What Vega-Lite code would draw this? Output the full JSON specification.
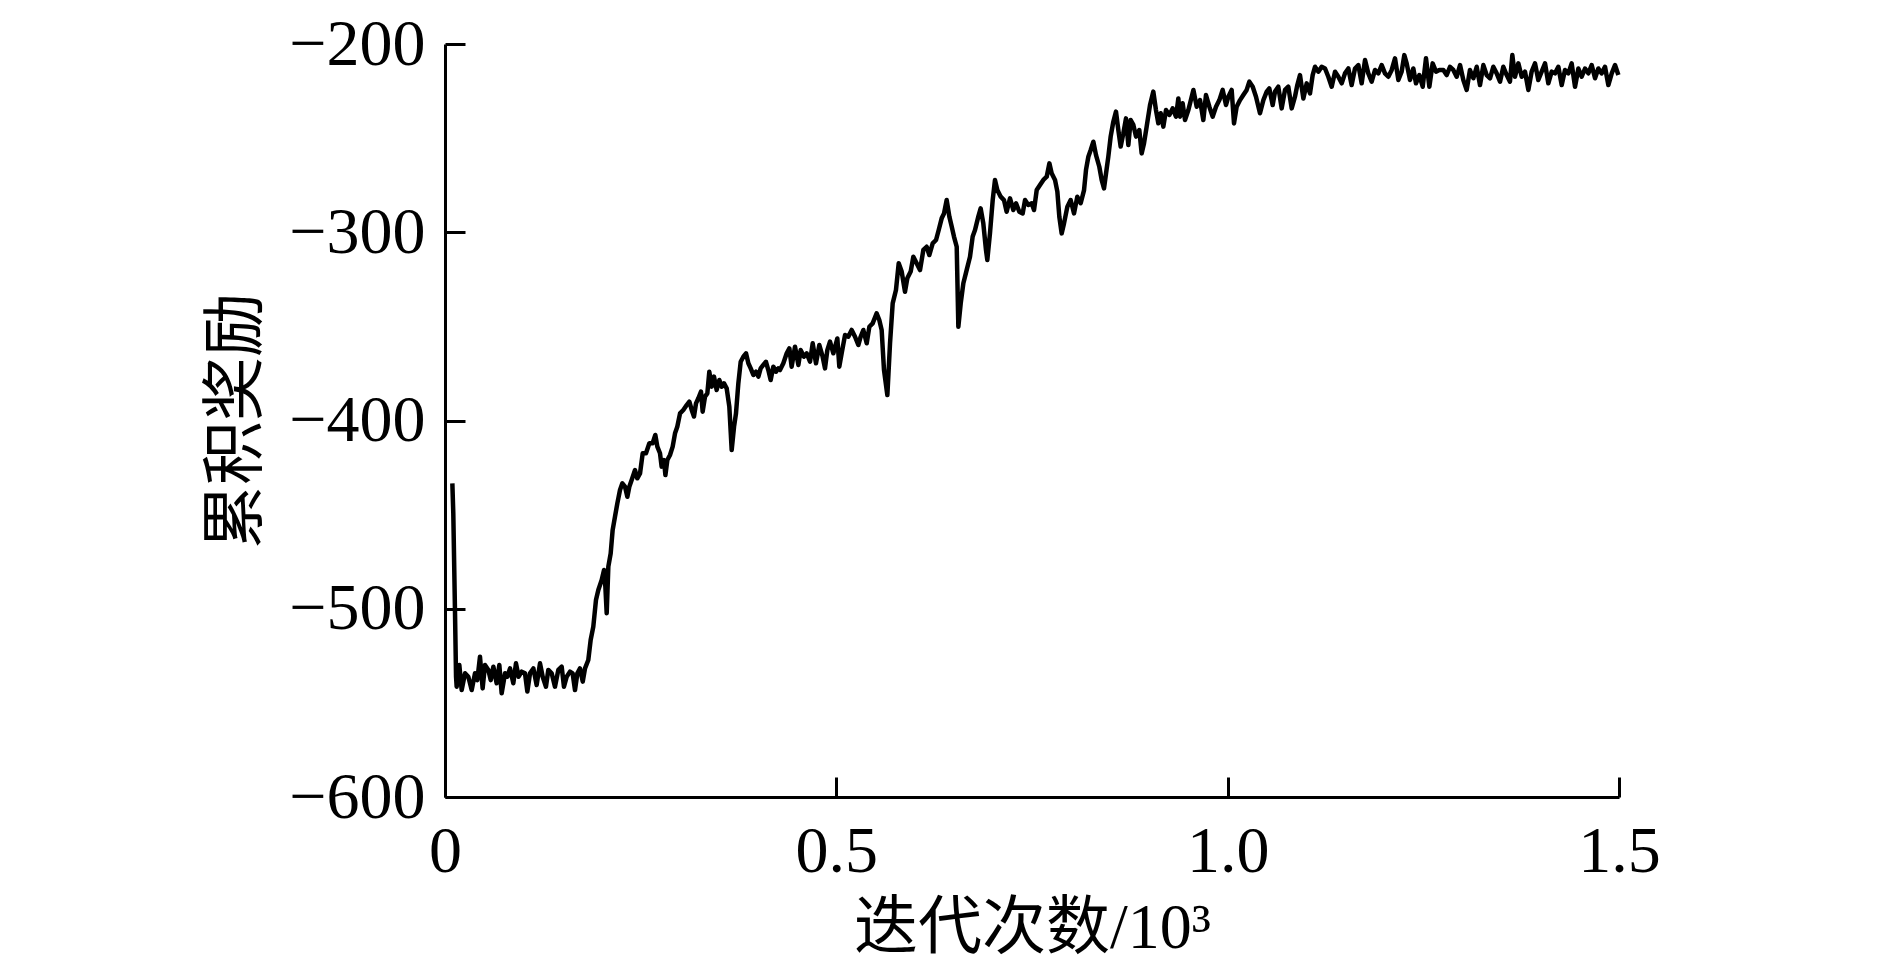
{
  "$schema": "https://vega.github.io/schema/vega-lite/v6.json",
  "width": 1174,
  "height": 753,
  "autosize": "none",
  "padding": {"left": 445, "top": 44, "right": 271, "bottom": 169},
  "background": "white",
  "config": {
    "view": {"stroke": null},
    "axis": {
      "grid": false,
      "domainColor": "black",
      "domainWidth": 3,
      "tickColor": "black",
      "tickWidth": 3,
      "labelFont": "Liberation Serif",
      "labelFontSize": 66,
      "labelColor": "black",
      "titleFont": "Liberation Serif, Noto Sans CJK SC",
      "titleFontSize": 64,
      "titleFontWeight": "normal",
      "titleColor": "black"
    }
  },
  "data": {
    "values": [
      {"x":0.0094,"y":-433.4},{"x":0.0106,"y":-449.3},{"x":0.0128,"y":-502.4},{"x":0.0141,"y":-536.1},
      {"x":0.0149,"y":-541.4},{"x":0.0183,"y":-529.9},{"x":0.0213,"y":-543.2},{"x":0.0256,"y":-534.3},
      {"x":0.0298,"y":-536.1},{"x":0.0341,"y":-543.2},{"x":0.0383,"y":-534.3},{"x":0.0413,"y":-537.9},
      {"x":0.0447,"y":-525.5},{"x":0.0481,"y":-542.3},{"x":0.0511,"y":-529.9},{"x":0.0554,"y":-532.5},
      {"x":0.0584,"y":-537.9},{"x":0.0618,"y":-530.8},{"x":0.0660,"y":-539.6},{"x":0.0694,"y":-529.9},
      {"x":0.0724,"y":-544.9},{"x":0.0767,"y":-534.3},{"x":0.0796,"y":-536.1},{"x":0.0831,"y":-531.7},
      {"x":0.0873,"y":-539.6},{"x":0.0907,"y":-529.0},{"x":0.0941,"y":-536.1},{"x":0.0980,"y":-533.4},
      {"x":0.1022,"y":-534.3},{"x":0.1052,"y":-544.0},{"x":0.1086,"y":-534.3},{"x":0.1129,"y":-531.7},
      {"x":0.1171,"y":-540.5},{"x":0.1214,"y":-529.0},{"x":0.1248,"y":-536.1},{"x":0.1290,"y":-541.4},
      {"x":0.1320,"y":-532.5},{"x":0.1363,"y":-534.3},{"x":0.1405,"y":-541.4},{"x":0.1448,"y":-532.5},
      {"x":0.1491,"y":-530.8},{"x":0.1520,"y":-541.4},{"x":0.1555,"y":-536.1},{"x":0.1597,"y":-533.4},
      {"x":0.1631,"y":-534.3},{"x":0.1661,"y":-543.2},{"x":0.1691,"y":-534.3},{"x":0.1725,"y":-531.7},
      {"x":0.1760,"y":-538.7},{"x":0.1789,"y":-531.7},{"x":0.1831,"y":-527.2},
      {"x":0.1861,"y":-516.6},{"x":0.1895,"y":-509.5},{"x":0.1929,"y":-495.4},{"x":0.1959,"y":-490.0},
      {"x":0.2002,"y":-484.7},{"x":0.2032,"y":-479.4},{"x":0.2049,"y":-488.3},{"x":0.2066,"y":-502.4},
      {"x":0.2087,"y":-477.6},{"x":0.2117,"y":-470.6},{"x":0.2142,"y":-458.2},{"x":0.2172,"y":-451.1},
      {"x":0.2202,"y":-444.0},{"x":0.2236,"y":-436.9},{"x":0.2266,"y":-433.4},{"x":0.2300,"y":-435.2},
      {"x":0.2330,"y":-440.5},{"x":0.2355,"y":-435.2},{"x":0.2385,"y":-431.6},{"x":0.2428,"y":-426.3},
      {"x":0.2457,"y":-430.7},{"x":0.2492,"y":-428.1},{"x":0.2526,"y":-417.4},{"x":0.2568,"y":-417.4},
      {"x":0.2611,"y":-412.1},{"x":0.2653,"y":-412.1},{"x":0.2687,"y":-407.7},{"x":0.2713,"y":-413.9},
      {"x":0.2747,"y":-417.4},{"x":0.2768,"y":-424.5},{"x":0.2798,"y":-421.0},{"x":0.2816,"y":-429.0},
      {"x":0.2841,"y":-421.0},{"x":0.2875,"y":-418.3},{"x":0.2909,"y":-413.9},{"x":0.2939,"y":-406.8},
      {"x":0.2968,"y":-403.3},{"x":0.3003,"y":-396.2},{"x":0.3045,"y":-394.4},{"x":0.3088,"y":-391.8},
      {"x":0.3122,"y":-390.0},{"x":0.3152,"y":-394.4},{"x":0.3181,"y":-397.9},{"x":0.3207,"y":-390.9},
      {"x":0.3237,"y":-388.2},{"x":0.3271,"y":-384.7},{"x":0.3292,"y":-395.3},{"x":0.3322,"y":-387.3},
      {"x":0.3352,"y":-385.6},{"x":0.3377,"y":-374.1},{"x":0.3408,"y":-382.0},{"x":0.3437,"y":-376.7},
      {"x":0.3471,"y":-383.8},{"x":0.3505,"y":-378.5},{"x":0.3536,"y":-382.0},{"x":0.3565,"y":-380.3},
      {"x":0.3599,"y":-382.9},{"x":0.3633,"y":-392.7},{"x":0.3663,"y":-415.7},{"x":0.3693,"y":-403.3},
      {"x":0.3718,"y":-396.2},{"x":0.3748,"y":-380.3},{"x":0.3778,"y":-368.8},{"x":0.3812,"y":-366.1},
      {"x":0.3846,"y":-364.3},{"x":0.3876,"y":-369.6},{"x":0.3906,"y":-372.3},{"x":0.3940,"y":-375.8},
      {"x":0.3974,"y":-374.1},{"x":0.4004,"y":-376.7},{"x":0.4033,"y":-372.3},{"x":0.4067,"y":-370.5},
      {"x":0.4101,"y":-368.8},{"x":0.4131,"y":-373.2},{"x":0.4161,"y":-378.5},{"x":0.4195,"y":-371.4},
      {"x":0.4229,"y":-374.1},{"x":0.4259,"y":-372.3},
      {"x":0.4280,"y":-373.2},{"x":0.4323,"y":-369.6},{"x":0.4366,"y":-364.3},{"x":0.4400,"y":-361.7},
      {"x":0.4429,"y":-371.4},{"x":0.4472,"y":-360.8},{"x":0.4515,"y":-370.5},{"x":0.4544,"y":-362.6},
      {"x":0.4587,"y":-366.1},{"x":0.4621,"y":-364.3},{"x":0.4664,"y":-368.8},{"x":0.4698,"y":-359.0},
      {"x":0.4740,"y":-369.6},{"x":0.4783,"y":-359.9},{"x":0.4825,"y":-366.1},{"x":0.4855,"y":-372.3},
      {"x":0.4885,"y":-362.6},{"x":0.4919,"y":-358.1},{"x":0.4962,"y":-364.3},{"x":0.5013,"y":-356.4},
      {"x":0.5038,"y":-371.4},{"x":0.5068,"y":-364.3},{"x":0.5111,"y":-354.6},{"x":0.5153,"y":-355.5},
      {"x":0.5196,"y":-351.9},{"x":0.5239,"y":-355.5},{"x":0.5281,"y":-359.9},{"x":0.5311,"y":-355.5},
      {"x":0.5345,"y":-351.9},{"x":0.5388,"y":-359.0},{"x":0.5422,"y":-350.2},{"x":0.5464,"y":-348.4},
      {"x":0.5515,"y":-343.1},{"x":0.5549,"y":-346.6},{"x":0.5579,"y":-351.9},{"x":0.5609,"y":-373.2},
      {"x":0.5652,"y":-386.5},{"x":0.5686,"y":-359.0},{"x":0.5720,"y":-337.8},{"x":0.5762,"y":-330.7},
      {"x":0.5797,"y":-316.5},{"x":0.5835,"y":-320.9},{"x":0.5877,"y":-331.6},{"x":0.5907,"y":-324.5},
      {"x":0.5950,"y":-320.9},{"x":0.5984,"y":-313.0},{"x":0.6026,"y":-316.5},{"x":0.6069,"y":-320.1},
      {"x":0.6112,"y":-309.4},{"x":0.6154,"y":-307.7},{"x":0.6188,"y":-312.1},{"x":0.6231,"y":-305.9},
      {"x":0.6274,"y":-304.1},{"x":0.6308,"y":-298.8},{"x":0.6346,"y":-292.6},{"x":0.6376,"y":-290.0},
      {"x":0.6410,"y":-282.9},{"x":0.6444,"y":-291.7},{"x":0.6474,"y":-297.0},{"x":0.6503,"y":-302.3},
      {"x":0.6538,"y":-307.7},{"x":0.6559,"y":-350.2},{"x":0.6589,"y":-337.8},{"x":0.6623,"y":-327.1},
      {"x":0.6665,"y":-320.1},{"x":0.6708,"y":-313.0},{"x":0.6742,"y":-302.3},{"x":0.6772,"y":-298.8},
      {"x":0.6814,"y":-291.7},{"x":0.6844,"y":-287.3},{"x":0.6878,"y":-295.3},{"x":0.6912,"y":-309.4},
      {"x":0.6929,"y":-314.7},{"x":0.6963,"y":-300.6},{"x":0.6998,"y":-282.9},{"x":0.7027,"y":-272.2},
      {"x":0.7057,"y":-277.6},{"x":0.7100,"y":-281.1},{"x":0.7142,"y":-282.9},{"x":0.7176,"y":-289.1},
      {"x":0.7219,"y":-282.0},{"x":0.7262,"y":-288.2},{"x":0.7296,"y":-284.6},{"x":0.7338,"y":-289.1},
      {"x":0.7381,"y":-290.0},{"x":0.7411,"y":-282.9},{"x":0.7453,"y":-285.5},{"x":0.7496,"y":-284.6},
      {"x":0.7526,"y":-288.2},{"x":0.7560,"y":-277.6},{"x":0.7602,"y":-274.9},{"x":0.7645,"y":-272.2},
      {"x":0.7688,"y":-270.5},{"x":0.7722,"y":-263.4},{"x":0.7751,"y":-268.7},{"x":0.7794,"y":-272.2},
      {"x":0.7824,"y":-278.4},{"x":0.7849,"y":-291.7},{"x":0.7879,"y":-300.6},{"x":0.7909,"y":-295.3},
      {"x":0.7952,"y":-286.4},{"x":0.7994,"y":-282.9},{"x":0.8037,"y":-290.0},{"x":0.8079,"y":-281.1},
      {"x":0.8122,"y":-284.6},{"x":0.8165,"y":-277.6},{"x":0.8190,"y":-266.9},{"x":0.8220,"y":-259.9},
      {"x":0.8250,"y":-256.3},{"x":0.8284,"y":-251.9},{"x":0.8318,"y":-259.0},{"x":0.8360,"y":-265.2},
      {"x":0.8390,"y":-272.2},{"x":0.8420,"y":-276.7},{"x":0.8446,"y":-268.7},{"x":0.8475,"y":-259.9},
      {"x":0.8505,"y":-249.2},{"x":0.8539,"y":-241.3},{"x":0.8573,"y":-235.9},{"x":0.8603,"y":-245.7},
      {"x":0.8633,"y":-254.5},{"x":0.8667,"y":-247.5},{"x":0.8701,"y":-239.5},{"x":0.8731,"y":-253.7},
      {"x":0.8761,"y":-240.4},{"x":0.8795,"y":-243.0},{"x":0.8829,"y":-249.2},{"x":0.8871,"y":-245.7},
      {"x":0.8901,"y":-258.1},{"x":0.8931,"y":-252.8},{"x":0.8965,"y":-243.9},{"x":0.9008,"y":-232.4},
      {"x":0.9050,"y":-225.3},{"x":0.9084,"y":-235.1},{"x":0.9114,"y":-242.1},{"x":0.9144,"y":-236.8},
      {"x":0.9178,"y":-243.9},{"x":0.9212,"y":-235.1},{"x":0.9255,"y":-237.7},{"x":0.9297,"y":-234.2},
      {"x":0.9340,"y":-238.6},{"x":0.9370,"y":-228.9},
      {"x":0.9391,"y":-238.6},{"x":0.9425,"y":-231.5},{"x":0.9455,"y":-240.4},{"x":0.9498,"y":-235.1},
      {"x":0.9562,"y":-224.4},{"x":0.9604,"y":-233.3},{"x":0.9647,"y":-229.8},{"x":0.9689,"y":-240.4},
      {"x":0.9723,"y":-227.1},{"x":0.9766,"y":-233.3},{"x":0.9808,"y":-238.6},{"x":0.9851,"y":-233.3},
      {"x":0.9894,"y":-229.8},{"x":0.9936,"y":-224.4},{"x":0.9979,"y":-232.4},{"x":1.0009,"y":-228.0},
      {"x":1.0051,"y":-224.4},{"x":1.0081,"y":-242.2},{"x":1.0115,"y":-233.3},{"x":1.0158,"y":-229.8},
      {"x":1.0200,"y":-227.1},{"x":1.0243,"y":-224.4},{"x":1.0277,"y":-220.0},{"x":1.0320,"y":-222.7},
      {"x":1.0362,"y":-228.0},{"x":1.0413,"y":-236.8},{"x":1.0456,"y":-229.8},{"x":1.0499,"y":-225.3},
      {"x":1.0532,"y":-223.6},{"x":1.0575,"y":-232.4},{"x":1.0605,"y":-225.3},{"x":1.0647,"y":-222.7},
      {"x":1.0690,"y":-234.2},{"x":1.0733,"y":-224.4},{"x":1.0775,"y":-222.7},{"x":1.0818,"y":-234.2},
      {"x":1.0860,"y":-228.0},{"x":1.0890,"y":-221.8},{"x":1.0924,"y":-216.5},{"x":1.0967,"y":-228.9},
      {"x":1.1010,"y":-220.9},{"x":1.1052,"y":-226.2},{"x":1.1086,"y":-216.5},{"x":1.1116,"y":-212.1},
      {"x":1.1159,"y":-214.7},{"x":1.1201,"y":-212.1},{"x":1.1244,"y":-213.0},{"x":1.1286,"y":-217.4},
      {"x":1.1329,"y":-222.7},{"x":1.1372,"y":-214.7},{"x":1.1414,"y":-217.4},{"x":1.1457,"y":-220.9},
      {"x":1.1499,"y":-215.6},{"x":1.1542,"y":-213.0},{"x":1.1584,"y":-221.8},{"x":1.1627,"y":-213.0},
      {"x":1.1670,"y":-211.2},{"x":1.1712,"y":-220.9},{"x":1.1755,"y":-208.5},{"x":1.1797,"y":-215.6},
      {"x":1.1840,"y":-220.0},{"x":1.1883,"y":-213.8},{"x":1.1925,"y":-215.6},{"x":1.1968,"y":-211.2},
      {"x":1.2010,"y":-215.6},{"x":1.2053,"y":-217.4},{"x":1.2096,"y":-213.8},{"x":1.2138,"y":-207.6},
      {"x":1.2181,"y":-219.1},{"x":1.2223,"y":-214.7},{"x":1.2257,"y":-205.9},{"x":1.2287,"y":-210.3},
      {"x":1.2330,"y":-219.1},{"x":1.2372,"y":-213.0},{"x":1.2406,"y":-220.9},{"x":1.2449,"y":-216.5},
      {"x":1.2492,"y":-222.7},{"x":1.2534,"y":-207.6},{"x":1.2577,"y":-222.7},{"x":1.2619,"y":-210.3},
      {"x":1.2662,"y":-214.7},{"x":1.2705,"y":-213.8},{"x":1.2756,"y":-213.8},{"x":1.2798,"y":-216.5},
      {"x":1.2841,"y":-212.1},{"x":1.2883,"y":-213.8},{"x":1.2926,"y":-217.4},{"x":1.2969,"y":-211.2},
      {"x":1.3011,"y":-219.1},{"x":1.3054,"y":-224.4},{"x":1.3096,"y":-213.8},{"x":1.3139,"y":-218.2},
      {"x":1.3182,"y":-212.1},{"x":1.3224,"y":-221.8},{"x":1.3267,"y":-211.2},{"x":1.3309,"y":-216.5},
      {"x":1.3352,"y":-218.2},{"x":1.3394,"y":-212.1},{"x":1.3437,"y":-215.6},{"x":1.3480,"y":-220.0},
      {"x":1.3522,"y":-212.1},{"x":1.3565,"y":-216.5},{"x":1.3607,"y":-220.0},{"x":1.3637,"y":-205.9},
      {"x":1.3671,"y":-217.4},{"x":1.3714,"y":-210.3},{"x":1.3757,"y":-217.4},{"x":1.3799,"y":-214.7},
      {"x":1.3842,"y":-224.4},{"x":1.3884,"y":-214.7},{"x":1.3927,"y":-210.3},{"x":1.3969,"y":-219.1},
      {"x":1.4012,"y":-214.7},{"x":1.4055,"y":-210.3},{"x":1.4097,"y":-220.9},{"x":1.4140,"y":-214.7},
      {"x":1.4182,"y":-215.6},{"x":1.4225,"y":-212.1},{"x":1.4268,"y":-221.8},{"x":1.4310,"y":-213.8},
      {"x":1.4353,"y":-215.6},{"x":1.4395,"y":-210.3},{"x":1.4438,"y":-222.7},{"x":1.4481,"y":-213.0},
      {"x":1.4523,"y":-217.4},{"x":1.4566,"y":-213.0},{"x":1.4608,"y":-215.6},{"x":1.4651,"y":-211.2},
      {"x":1.4694,"y":-218.2},{"x":1.4736,"y":-213.0},{"x":1.4779,"y":-215.6},{"x":1.4821,"y":-212.1},
      {"x":1.4864,"y":-221.8},{"x":1.4907,"y":-215.6},{"x":1.4949,"y":-211.2},{"x":1.4992,"y":-216.5}
    ]
  },
  "mark": {"type": "line", "color": "black", "strokeWidth": 4.5, "strokeJoin": "round"},
  "encoding": {
    "x": {
      "field": "x",
      "type": "quantitative",
      "scale": {"domain": [0, 1.5], "nice": false, "zero": false},
      "axis": {
        "values": [0, 0.5, 1, 1.5],
        "labelExpr": "datum.value == 0 ? '0' : format(datum.value, '.1f')",
        "tickSize": -20,
        "labelPadding": 42,
        "labelFlush": false,
        "title": "迭代次数/10³",
        "titlePadding": 12
      }
    },
    "y": {
      "field": "y",
      "type": "quantitative",
      "scale": {"domain": [-600, -200], "nice": false, "zero": false},
      "axis": {
        "values": [-600, -500, -400, -300, -200],
        "format": "d",
        "tickSize": -20,
        "labelPadding": 40,
        "labelFlush": false,
        "title": "累积奖励",
        "titlePadding": 20
      }
    }
  }
}
